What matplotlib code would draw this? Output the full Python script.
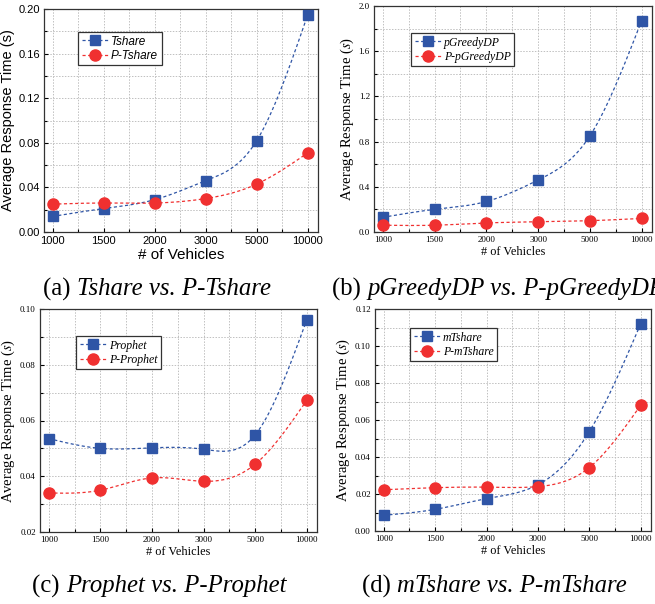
import matplotlib
matplotlib.use('Agg')
import matplotlib.pyplot as plt
import numpy as np
from matplotlib.ticker import MultipleLocator

vehicles = ['1000', '1500', '2000', '3000', '5000', '10000']

tshare = [0.014, 0.021, 0.029, 0.046, 0.082, 0.195]
p_tshare = [0.025, 0.026, 0.026, 0.030, 0.043, 0.071]

pgreedy = [0.13, 0.20, 0.27, 0.46, 0.85, 1.87]
p_pgreedy = [0.06, 0.06, 0.08, 0.09, 0.10, 0.12]

prophet = [0.0535, 0.0500, 0.0502, 0.0497, 0.0548, 0.0960]
p_prophet = [0.0340, 0.0350, 0.0394, 0.0382, 0.0443, 0.0672]

mtshare = [0.0085, 0.0117, 0.0175, 0.0250, 0.0537, 0.1120]
p_mtshare = [0.0223, 0.0234, 0.0237, 0.0240, 0.0343, 0.0680]

blue = '#2f55a6'
red = '#f03030'


def spline(y, n=200):
    # natural cubic spline through the points, only used to draw the smooth line
    y = np.asarray(y, float)
    m = len(y)
    A = np.zeros((m, m))
    b = np.zeros(m)
    A[0, 0] = A[-1, -1] = 1
    for i in range(1, m - 1):
        A[i, i - 1], A[i, i], A[i, i + 1] = 1, 4, 1
        b[i] = 6 * (y[i + 1] - 2 * y[i] + y[i - 1])
    M = np.linalg.solve(A, b)
    xs = np.linspace(0, m - 1, n)
    k = np.minimum(xs.astype(int), m - 2)
    t = xs - k
    ys = ((1 - t) * y[k] + t * y[k + 1]
          + ((1 - t) ** 3 - (1 - t)) * M[k] / 6 + (t ** 3 - t) * M[k + 1] / 6)
    return xs, ys


def panel(rect, s1, s2, names, ylim, ystep, fam, legrect):
    sans = fam == 'Liberation Sans'
    tick_fs = 8 if sans else 6.5
    xl_fs = 11 if sans else 8.8
    yl_fs = 10.5
    ax = fig.add_axes(rect)
    x = np.arange(len(vehicles))
    for s, c, mk, ms, nm in [(s1, blue, 's', 7.5, names[0]), (s2, red, 'o', 8, names[1])]:
        xs, ys = spline(s)
        ax.plot(xs, ys, color=c, lw=0.9, ls=(0, (2.5, 2)), zorder=3)
        ax.plot(x, s, ls='none', marker=mk, ms=ms, color=c, zorder=4)
        ax.plot([], [], color=c, lw=0.9, ls=(0, (2.5, 2)), marker=mk, ms=ms, label=nm)
    ax.set_xlim(-0.17, 5.2)
    ax.set_ylim(*ylim)
    ax.set_xticks(x)
    ax.set_xticklabels(vehicles)
    ax.xaxis.set_minor_locator(MultipleLocator(0.5))
    ax.yaxis.set_major_locator(MultipleLocator(ystep))
    ax.yaxis.set_minor_locator(MultipleLocator(ystep / 2))
    ax.grid(True, which='both', color='#c0c0c0', ls=(0, (1.5, 1.5)), lw=0.7)
    ax.tick_params(which='both', direction='in', labelsize=tick_fs, width=0.8, pad=3)
    ax.tick_params(which='major', length=3)
    ax.tick_params(which='minor', length=2)
    for sp in ax.spines.values():
        sp.set_linewidth(0.9)
        sp.set_color('#333333')
    for lab in ax.get_xticklabels() + ax.get_yticklabels():
        lab.set_family(fam)
    ax.set_xlabel('# of Vehicles', family=fam, fontsize=xl_fs, labelpad=1)
    if sans:
        ax.set_ylabel('Average Response Time (s)', family=fam, fontsize=yl_fs, labelpad=2)
    else:
        ax.set_ylabel('Average Response Time ($s$)', family=fam, fontsize=yl_fs, labelpad=2)
    leg = ax.legend(loc='upper left', bbox_to_anchor=legrect, frameon=True, fancybox=False,
                    edgecolor='#333333', framealpha=1, handlelength=2.2, handletextpad=0.3,
                    borderpad=0.3, labelspacing=0.2, borderaxespad=0,
                    prop={'family': fam, 'style': 'italic', 'size': 8.5})
    leg.get_frame().set_linewidth(0.9)
    return ax


fig = plt.figure(figsize=(6.55, 6.04), dpi=100)
W, H = 655, 604
plt.rcParams['mathtext.fontset'] = 'stix'


def r(l, t, rgt, b):
    return [l / W, 1 - b / H, (rgt - l) / W, (b - t) / H]


def lp(ax_r, x, y):
    l, t, rgt, b = ax_r
    return ((x - l) / (rgt - l), 1 - (y - t) / (b - t))


ra = (44, 9, 318, 232)
rb = (374, 6, 652, 232)
rc = (40, 309, 317, 532)
rd = (375, 309, 651, 531)

panel(r(*ra), tshare, p_tshare, ['Tshare', 'P-Tshare'], (0, 0.2), 0.04,
      'Liberation Sans', lp(ra, 78, 32))
panel(r(*rb), pgreedy, p_pgreedy, ['pGreedyDP', 'P-pGreedyDP'], (0, 2.0), 0.4,
      'Liberation Serif', lp(rb, 411, 33))
panel(r(*rc), prophet, p_prophet, ['Prophet', 'P-Prophet'], (0.02, 0.10), 0.02,
      'Liberation Serif', lp(rc, 76, 336))
panel(r(*rd), mtshare, p_mtshare, ['mTshare', 'P-mTshare'], (0, 0.12), 0.02,
      'Liberation Serif', lp(rd, 410, 328))

cap = dict(family='Liberation Serif', fontsize=17.8, va='center')


def caption(x, y, tag, body):
    t = fig.text(x / W, 1 - y / H, tag, **cap)
    fig.canvas.draw()
    bb = t.get_window_extent()
    fig.text(bb.x1 / W, 1 - y / H, body, style='italic', **cap)


caption(43, 289, '(a) ', 'Tshare vs. P-Tshare')
caption(332, 289, '(b) ', 'pGreedyDP vs. P-pGreedyDP')
caption(32, 586, '(c) ', 'Prophet vs. P-Prophet')
caption(362, 586, '(d) ', 'mTshare vs. P-mTshare')

fig.savefig('out.png', dpi=100)
